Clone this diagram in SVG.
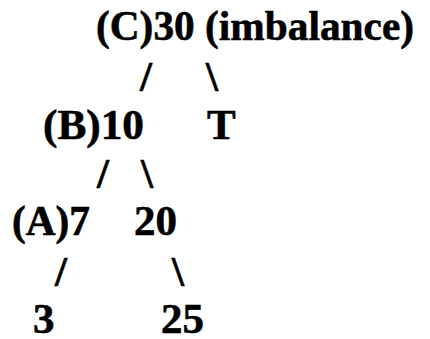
<svg xmlns="http://www.w3.org/2000/svg" width="430" height="339" viewBox="0 0 430 339">
<style>
text{font-family:"Liberation Serif","Times New Roman",serif;font-weight:bold;font-size:43px;fill:#000;stroke:#000;stroke-width:0.6}
</style>
<rect width="430" height="339" fill="#fff"/>
<g id="connectors">
<text x="140" y="91">/</text>
<text x="206" y="91">\</text>
<text x="97" y="188">/</text>
<text x="141" y="188">\</text>
<text x="55" y="286">/</text>
<text x="172" y="286">\</text>
</g>
<g id="nodeC"><text x="96" y="40" textLength="318" lengthAdjust="spacingAndGlyphs">(C)30 (imbalance)</text></g>
<g id="nodeB"><text x="43" y="139" textLength="101" lengthAdjust="spacingAndGlyphs">(B)10</text></g>
<g id="nodeT"><text x="207" y="139">T</text></g>
<g id="nodeA"><text x="12" y="235" textLength="78" lengthAdjust="spacingAndGlyphs">(A)7</text></g>
<g id="node20"><text x="134" y="235">20</text></g>
<g id="node3"><text x="33" y="333">3</text></g>
<g id="node25"><text x="161" y="333">25</text></g>
</svg>
